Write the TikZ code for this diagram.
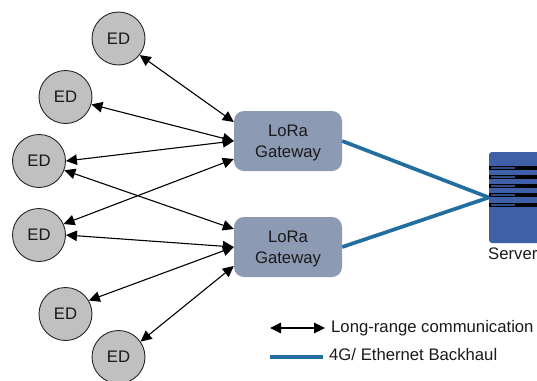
\documentclass[tikz,border=0pt]{standalone}
\usepackage{fontspec}
\setmainfont{Liberation Sans}
\usetikzlibrary{arrows.meta}
\definecolor{edfill}{HTML}{C0C0C0}
\definecolor{gwfill}{HTML}{8C9AB3}
\definecolor{srvfill}{HTML}{3F60A9}
\definecolor{srvline}{HTML}{2F4D85}
\definecolor{backhaul}{HTML}{226E9E}
\definecolor{txt}{HTML}{1A1A1A}
\newcommand{\gwstrut}{\rule{0pt}{16pt}}
\tikzset{
  ednode/.style={circle,draw=black!85,line width=0.9pt,fill=edfill,minimum size=53pt,inner sep=0pt,text=txt,font=\fontsize{16.7}{20}\selectfont},
  gwnode/.style={rectangle,rounded corners=10pt,fill=gwfill,minimum width=108pt,minimum height=60pt,inner sep=0pt,align=center,text=txt,font=\fontsize{16.7}{21}\selectfont},
  lora/.style={line width=1.1pt,{Triangle[length=11pt,width=10.5pt]}-{Triangle[length=11pt,width=10.5pt]}},
  haul/.style={line width=3.7pt,draw=backhaul},
  legendtext/.style={anchor=west,inner sep=0pt,text=txt,font=\fontsize{16.7}{20}\selectfont},
  stripe/.style={fill=black,draw=none},
  stripeinner/.style={draw=srvline,line width=1.2pt}
}
\begin{document}
\begin{tikzpicture}[x=1pt,y=-1pt]
\path[use as bounding box,clip] (0,0) rectangle (537,380);
\node[ednode] (e1) at (118.5,38.5) {ED};
\node[ednode] (e2) at (65.5,97) {ED};
\node[ednode] (e3) at (39,161) {ED};
\node[ednode] (e4) at (39,235) {ED};
\node[ednode] (e5) at (65.5,314) {ED};
\node[ednode] (e6) at (118.5,357) {ED};
\node[gwnode] (g1) at (288,141) {\gwstrut LoRa\\Gateway};
\node[gwnode] (g2) at (288,247) {\gwstrut LoRa\\Gateway};
% server
\node[rectangle,rounded corners=3pt,fill=srvfill,minimum width=56pt,minimum height=91pt,inner sep=0pt] (srv) at (517,197.5) {};
\foreach \yy in {168,177,186,195,205}{
  \fill[stripe] (489,\yy-2) rectangle (537,\yy+2);
  \draw[stripeinner] (491,\yy) -- (515,\yy);
}
\node[anchor=west,inner sep=0pt,text=txt,font=\fontsize{16.7}{20}\selectfont] (srvlabel) at (488,254) {Server};
% connectors
\draw[lora] (e1.-38) -- ([yshift=19pt]g1.west);
\draw[lora] (e2.-16) -- (g1.west);
\draw[lora] (e3.east) -- (g1.west);
\draw[lora] (e4.24) -- ([yshift=-18pt]g1.west);
\draw[lora] (e3.-20) -- ([yshift=18pt]g2.west);
\draw[lora] (e4.east) -- (g2.west);
\draw[lora] (e5.30) -- (g2.west);
\draw[lora] (e6.35) -- ([yshift=-19pt]g2.west);
\draw[haul] (g1.east) -- (srv.west);
\draw[haul] (g2.east) -- (srv.west);
% legend
\coordinate (la) at (270,328);
\coordinate (lb) at (325,328);
\coordinate (lc) at (270,357);
\coordinate (ld) at (323,357);
\draw[lora] (la) -- (lb);
\draw[haul] (lc) -- (ld);
\node[legendtext] (lt1) at (331,328) {Long-range communication};
\node[legendtext] (lt2) at (329,355) {4G/ Ethernet Backhaul};
\end{tikzpicture}
\end{document}
